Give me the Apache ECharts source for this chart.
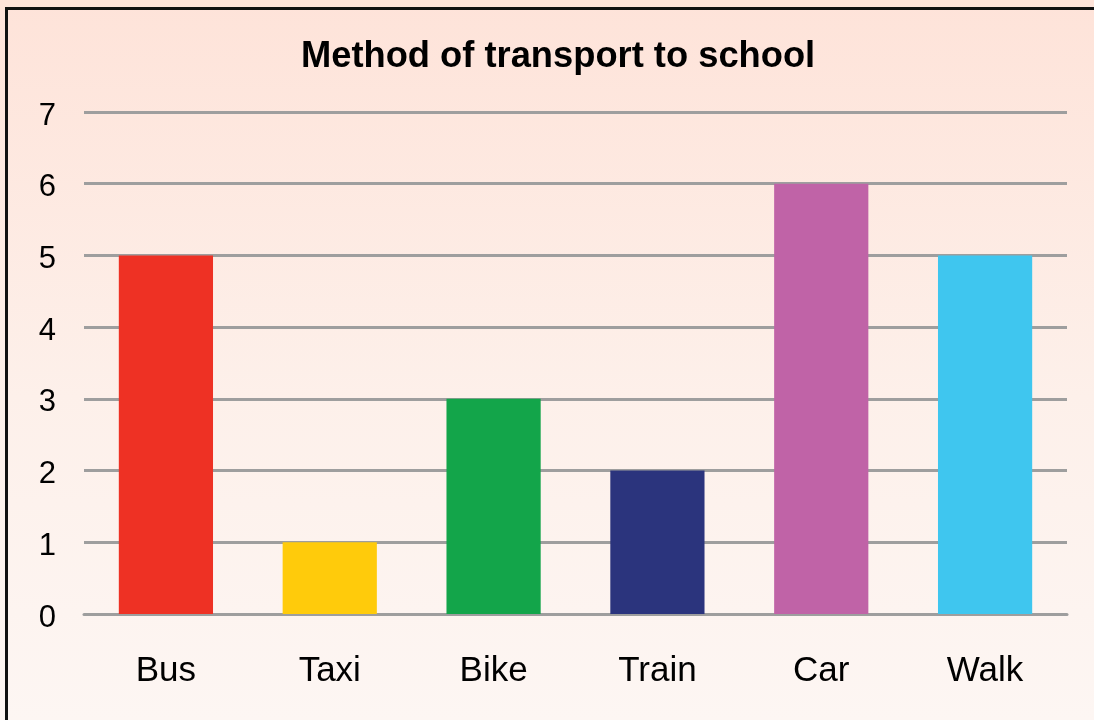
<!DOCTYPE html>
<html>
<head>
<meta charset="utf-8">
<script src="https://cdn.jsdelivr.net/npm/echarts@6/dist/echarts.min.js"></script>
<style>
  html, body { margin: 0; padding: 0; }
  body {
    width: 1094px; height: 720px; overflow: hidden;
    background: linear-gradient(to bottom, #fee3d9 0%, #fdf0ea 55%, #fdf6f3 100%);
    position: relative;
  }
  #frame {
    position: absolute; left: 5px; top: 7px; width: 1200px; height: 800px;
    border-left: 3px solid #111; border-top: 3px solid #111;
  }
  #chart { position: absolute; left: 0; top: 0; width: 1094px; height: 720px; }
</style>
</head>
<body>
<div id="frame"></div>
<div id="chart"></div>
<script>
// Pupils by method of transport
const categories = ['Bus', 'Taxi', 'Bike', 'Train', 'Car', 'Walk'];
const counts = [5, 1, 3, 2, 6, 5];
const barColors = ['#ee3124', '#ffcb0b', '#13a54a', '#2b347d', '#c063a7', '#3fc6ef'];
const yTicks = [0, 1, 2, 3, 4, 5, 6, 7];

const FONT = 'Liberation Sans, Arial, sans-serif';

const chart = echarts.init(document.getElementById('chart'), null, { renderer: 'canvas' });
chart.setOption({
  backgroundColor: 'transparent',
  animation: false,
  title: {
    text: 'Method of transport to school',
    left: 296,
    top: 34,
    textStyle: { fontFamily: FONT, fontWeight: 'bold', fontSize: 36.3, color: '#000' }
  },
  grid: { left: 84, right: 27, top: 112, bottom: 106 },
  xAxis: {
    type: 'category',
    data: categories,
    axisLine: { show: true, lineStyle: { color: '#9e9e9e', width: 3 } },
    axisTick: { show: false },
    axisLabel: { margin: 40, fontSize: 35, color: '#000', fontFamily: FONT }
  },
  yAxis: {
    type: 'value',
    min: yTicks[0],
    max: yTicks[yTicks.length - 1],
    interval: 1,
    axisLine: { show: false },
    axisTick: { show: false },
    splitLine: { lineStyle: { color: '#9e9e9e', width: 3 } },
    axisLabel: {
      margin: 28,
      formatter: '{n|{value}}',
      rich: { n: { fontSize: 31, color: '#000', fontFamily: FONT, padding: [8, 0, 0, 0] } }
    }
  },
  series: [{
    type: 'bar',
    barWidth: '57.5%',
    data: counts.map((v, i) => ({ value: v, itemStyle: { color: barColors[i] } }))
  }]
});
</script>
</body>
</html>
